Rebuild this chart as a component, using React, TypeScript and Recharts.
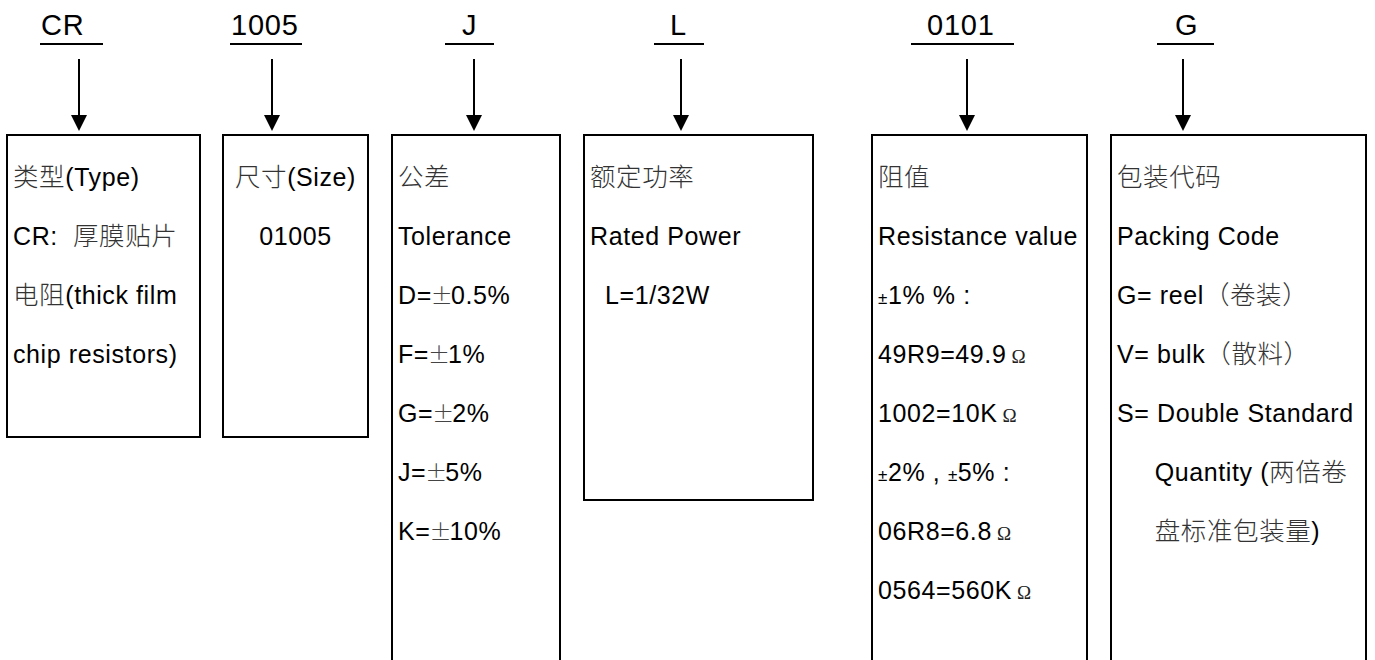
import { ComposedChart, XAxis, YAxis, ReferenceArea, ReferenceLine, Scatter } from 'recharts';

// --- part number codes (top row) ---
const codes = ['CR', '1005', 'J', 'L', '0101', 'G'];

// --- text inside each explanation box ---
const typeLines = ['类型(Type)', 'CR:  厚膜贴片', '电阻(thick film', 'chip resistors)'];
const sizeLines = ['尺寸(Size)', '01005'];
const toleranceLines = ['公差', 'Tolerance', 'D=±0.5%', 'F=±1%', 'G=±2%', 'J=±5%', 'K=±10%'];
const powerLines = ['额定功率', 'Rated Power', '  L=1/32W'];
const resistanceLines = [
    '阻值', 'Resistance value', '±1% % :', '49R9=49.9Ω', '1002=10KΩ',
    '±2% , ±5% :', '06R8=6.8Ω', '0564=560KΩ',
];
const packingLines = [
    '包装代码', 'Packing Code', 'G= reel（卷装）', 'V= bulk（散料）',
    'S= Double Standard', '     Quantity (两倍卷', '     盘标准包装量)',
];
const boxLines = [typeLines, sizeLines, toleranceLines, powerLines, resistanceLines, packingLines];

// --- layout (drawing units == page pixels) ---
const W = 1375;
const H = 660;
const codeX = [41, 231, 462, 670, 927, 1175];
const codeBaseline = 35;
const underline = [[40, 103], [230, 302], [445, 494], [654, 704], [911, 1014], [1157, 1214]];
const underlineY = 44;
const arrowX = [79, 272, 474, 681, 967, 1183];
const arrowTop = 59;
const arrowTip = 131;
const boxX = [[7, 200], [223, 368], [392, 560], [584, 813], [872, 1087], [1111, 1366]];
const boxTop = 135;
const boxBottom = [437, 437, 700, 500, 700, 700]; // >H means it runs off the page
const textX = [13, 295.5, 398, 590, 878, 1117];
const textAnchor = ['start', 'middle', 'start', 'start', 'start', 'start'];
const firstBaseline = 186;
const lineGap = 59;

const LATIN = '"Liberation Sans", Arial, sans-serif';
const CJK = '"Noto Sans CJK SC", sans-serif';

type Pt = { x: number; y: number; text?: string; kind: string; anchor?: string };

const codePoints: Pt[] = codes.map((c, i) => ({ x: codeX[i], y: codeBaseline, text: c, kind: 'code' }));
const linePoints: Pt[] = boxLines.flatMap((lines, b) =>
    lines.map((t, k) => ({
        x: textX[b],
        y: firstBaseline + k * lineGap,
        text: t,
        kind: b === 4 ? 'small' : 'line',
        anchor: textAnchor[b],
    }))
);
const tipPoints: Pt[] = arrowX.map((x) => ({ x, y: arrowTip, kind: 'tip' }));

// split a line into runs so CJK, ± and Ω can use their own glyph styles
function runs(s: string, kind: string) {
    const parts = s.split(/([\u3000-\u9fff\uff00-\uffef]+|Ω|±)/).filter((p) => p.length);
    return parts.map((p, i) => {
        if (p === 'Ω') {
            return <tspan key={i} dx={5} fontFamily='"Liberation Serif", serif' fontSize={19} fill="#222">Ω</tspan>;
        }
        if (p === '±') {
            return kind === 'small'
                ? <tspan key={i} fontSize={17}>±</tspan>
                : <tspan key={i} dx={-1} fontFamily={CJK} fontWeight={300} fontSize={22} letterSpacing={-2} fill="#444">±</tspan>;
        }
        if (/[\u3000-\u9fff\uff00-\uffef]/.test(p)) {
            return <tspan key={i} fontFamily={CJK} fontWeight={300} fontSize={25.5} fill="#333">{p}</tspan>;
        }
        return <tspan key={i}>{p}</tspan>;
    });
}

const TextShape = (props: any) => {
    const { cx, cy, payload } = props;
    const isCode = payload.kind === 'code';
    return (
        <text
            x={cx}
            y={cy}
            textAnchor={payload.anchor || 'start'}
            fontFamily={LATIN}
            fontSize={isCode ? 29 : 25}
            letterSpacing={isCode ? 0.8 : 0.6}
            fill="#000"
            style={{ whiteSpace: 'pre' }}
        >
            {runs(payload.text, payload.kind)}
        </text>
    );
};

const TipShape = (props: any) => {
    const { cx, cy } = props;
    return <polygon points={`${cx - 8},${cy - 16} ${cx + 8},${cy - 16} ${cx},${cy}`} fill="#000" />;
};

export default function App() {
    return (
        <div style={{ position: 'absolute', left: 0, top: 0, width: W, height: H, background: '#fff' }}>
            <ComposedChart width={W} height={H} margin={{ top: 0, right: 0, bottom: 0, left: 0 }}>
                <XAxis dataKey="x" type="number" domain={[0, W]} allowDataOverflow hide />
                <YAxis type="number" domain={[0, H]} reversed allowDataOverflow hide />

                {boxX.map(([x1, x2], i) => (
                    <ReferenceArea
                        key={`box-${i}`}
                        x1={x1}
                        x2={x2}
                        y1={boxTop}
                        y2={boxBottom[i]}
                        fill="none"
                        stroke="#000"
                        strokeWidth={2}
                        ifOverflow="visible"
                    />
                ))}

                {underline.map(([a, b], i) => (
                    <ReferenceLine
                        key={`ul-${i}`}
                        segment={[{ x: a, y: underlineY }, { x: b, y: underlineY }]}
                        stroke="#000"
                        strokeWidth={2}
                        ifOverflow="visible"
                    />
                ))}

                {arrowX.map((x, i) => (
                    <ReferenceLine
                        key={`ar-${i}`}
                        segment={[{ x, y: arrowTop }, { x, y: arrowTip - 14 }]}
                        stroke="#000"
                        strokeWidth={2}
                        ifOverflow="visible"
                    />
                ))}

                <Scatter data={tipPoints} dataKey="y" shape={TipShape} isAnimationActive={false} />
                <Scatter data={codePoints} dataKey="y" shape={TextShape} isAnimationActive={false} />
                <Scatter data={linePoints} dataKey="y" shape={TextShape} isAnimationActive={false} />
            </ComposedChart>
        </div>
    );
}
